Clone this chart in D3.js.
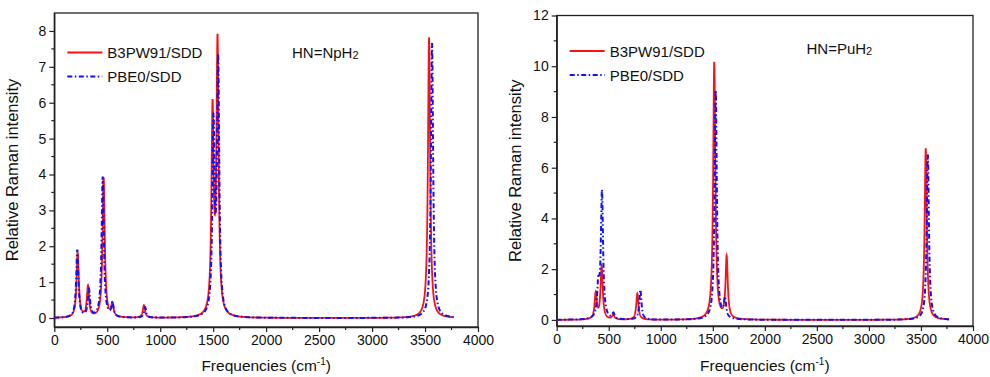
<!DOCTYPE html>
<html>
<head>
<meta charset="utf-8">
<script src="https://cdn.jsdelivr.net/npm/d3@7"></script>
<style>
body { margin: 0; background: #fff; }
text { font-family: "Liberation Sans", Arial, sans-serif; fill: #111; }
</style>
</head>
<body>
<div id="chart"></div>
<script>
// stick spectra: band positions (cm-1) and peak heights
var npFreqB3  = [221, 318, 466, 549, 846, 1494, 1541, 3538];
var npIntB3   = [1.80, 0.86, 3.90, 0.36, 0.35, 5.60, 7.55, 7.82];
var npFreqPBE = [217, 327, 457, 549, 858, 1503, 1547, 3566];
var npIntPBE  = [1.88, 0.76, 3.92, 0.38, 0.29, 5.20, 6.98, 7.66];

var puFreqB3  = [375, 432, 544, 775, 1514, 1633, 3546];
var puIntB3   = [1.03, 2.09, 0.20, 1.04, 10.15, 2.43, 6.76];
var puFreqPBE = [400, 435, 545, 804, 1528, 1617, 3566];
var puIntPBE  = [1.22, 5.00, 0.22, 1.18, 9.05, 0.75, 6.52];

var seriesNames = ["B3PW91/SDD", "PBE0/SDD"];
var xTicks = [0, 500, 1000, 1500, 2000, 2500, 3000, 3500, 4000];
var yTicksNp = [0, 1, 2, 3, 4, 5, 6, 7, 8];
var yTicksPu = [0, 2, 4, 6, 8, 10, 12];

var halfWidth = 12.5;    // lorentzian HWHM used for the broadening, cm-1
var freqEnd = 3770;      // spectra stop here

var svg = d3.select("#chart").append("svg")
  .attr("width", 990)
  .attr("height", 377);

// broadened spectrum from a stick list
function spectrum(freqs, ints) {
  var pts = [];
  for (var f = 0; f <= freqEnd; f += 1) {
    var s = 0;
    for (var k = 0; k < freqs.length; k++) {
      var d = f - freqs[k];
      s += ints[k] * halfWidth * halfWidth / (d * d + halfWidth * halfWidth);
    }
    pts.push({x: f, y: s});
  }
  return pts;
}

function drawPanel(p) {
  var g = svg.append("g");
  var x = d3.scaleLinear().domain([0, 4000]).range([p.left, p.right]);
  var y = d3.scaleLinear().domain(p.yDomain).range([p.bottom, p.top]);

  // frame
  g.append("rect")
    .attr("x", p.left).attr("y", p.top)
    .attr("width", p.right - p.left).attr("height", p.bottom - p.top)
    .attr("fill", "none").attr("stroke", "#222").attr("stroke-width", 1.3);

  // minor ticks
  var xMinor = d3.range(250, 4000, 500);
  g.selectAll(".xm").data(xMinor).enter().append("line")
    .attr("x1", function(d) { return x(d); }).attr("x2", function(d) { return x(d); })
    .attr("y1", p.bottom).attr("y2", p.bottom + 3)
    .attr("stroke", "#222").attr("stroke-width", 1.2);
  g.selectAll(".ym").data(p.yMinor).enter().append("line")
    .attr("y1", function(d) { return y(d); }).attr("y2", function(d) { return y(d); })
    .attr("x1", p.left).attr("x2", p.left - 3)
    .attr("stroke", "#222").attr("stroke-width", 1.2);

  var xAxis = g.append("g")
    .attr("transform", "translate(0," + p.bottom + ")")
    .call(d3.axisBottom(x).tickValues(xTicks).tickFormat(d3.format("d"))
      .tickSize(5).tickSizeOuter(0).tickPadding(3));
  var yAxis = g.append("g")
    .attr("transform", "translate(" + p.left + ",0)")
    .call(d3.axisLeft(y).tickValues(p.yTicks).tickFormat(d3.format("d"))
      .tickSize(5).tickSizeOuter(0).tickPadding(3));
  [xAxis, yAxis].forEach(function(a) {
    a.select(".domain").attr("stroke", "#222").attr("stroke-width", 1.3);
    a.selectAll(".tick line").attr("stroke", "#222").attr("stroke-width", 1.2);
    a.selectAll(".tick text").style("font-size", "14px").attr("fill", "#111");
  });

  var line = d3.line()
    .x(function(d) { return x(d.x); })
    .y(function(d) { return y(d.y); });

  g.append("path")
    .attr("d", line(spectrum(p.freqB3, p.intB3)))
    .attr("fill", "none").attr("stroke", "#ff1010").attr("stroke-width", 1.8);
  g.append("path")
    .attr("d", line(spectrum(p.freqPBE, p.intPBE)))
    .attr("fill", "none").attr("stroke", "#1010ff").attr("stroke-width", 2)
    .attr("stroke-dasharray", "5,2.5,1.5,2.5");

  // legend
  var lx = p.left + 13;
  g.append("line").attr("x1", lx).attr("x2", lx + 35).attr("y1", p.legY).attr("y2", p.legY)
    .attr("stroke", "#ff1010").attr("stroke-width", 1.8);
  g.append("line").attr("x1", lx).attr("x2", lx + 35).attr("y1", p.legY + 24).attr("y2", p.legY + 24)
    .attr("stroke", "#1010ff").attr("stroke-width", 2).attr("stroke-dasharray", "5,2.5,1.5,2.5");
  g.selectAll(".leg").data(seriesNames).enter().append("text")
    .attr("x", lx + 40).attr("y", function(d, i) { return p.legY + 5.5 + i * 24; })
    .style("font-size", "15px").text(function(d) { return d; });

  // molecule label
  var t = g.append("text").attr("x", p.titleX).attr("y", p.titleY).style("font-size", "15px");
  t.append("tspan").text(p.title);
  t.append("tspan").attr("dy", 1).style("font-size", "11px").text("2");

  // axis titles
  g.append("text")
    .attr("transform", "translate(" + (p.left - 36) + "," + ((p.top + p.bottom) / 2) + ") rotate(-90)")
    .attr("text-anchor", "middle").style("font-size", "16.5px")
    .text("Relative Raman intensity");
  var xt = g.append("text")
    .attr("x", (p.left + p.right) / 2).attr("y", 371)
    .attr("text-anchor", "middle").style("font-size", "15.5px");
  xt.append("tspan").text("Frequencies (cm");
  xt.append("tspan").attr("dy", -6).style("font-size", "10px").text("-1");
  xt.append("tspan").attr("dy", 6).text(")");
}

drawPanel({
  left: 54.3, right: 478, top: 13, bottom: 327,
  yDomain: [-0.25, 8.5], yTicks: yTicksNp, yMinor: d3.range(0.5, 8.5, 1),
  freqB3: npFreqB3, intB3: npIntB3, freqPBE: npFreqPBE, intPBE: npIntPBE,
  legY: 52.5, title: "HN=NpH", titleX: 292, titleY: 58
});
drawPanel({
  left: 556.7, right: 973, top: 15.5, bottom: 326,
  yDomain: [-0.24, 12], yTicks: yTicksPu, yMinor: d3.range(1, 12, 2),
  freqB3: puFreqB3, intB3: puIntB3, freqPBE: puFreqPBE, intPBE: puIntPBE,
  legY: 51, title: "HN=PuH", titleX: 806.5, titleY: 53.5
});
</script>
</body>
</html>
